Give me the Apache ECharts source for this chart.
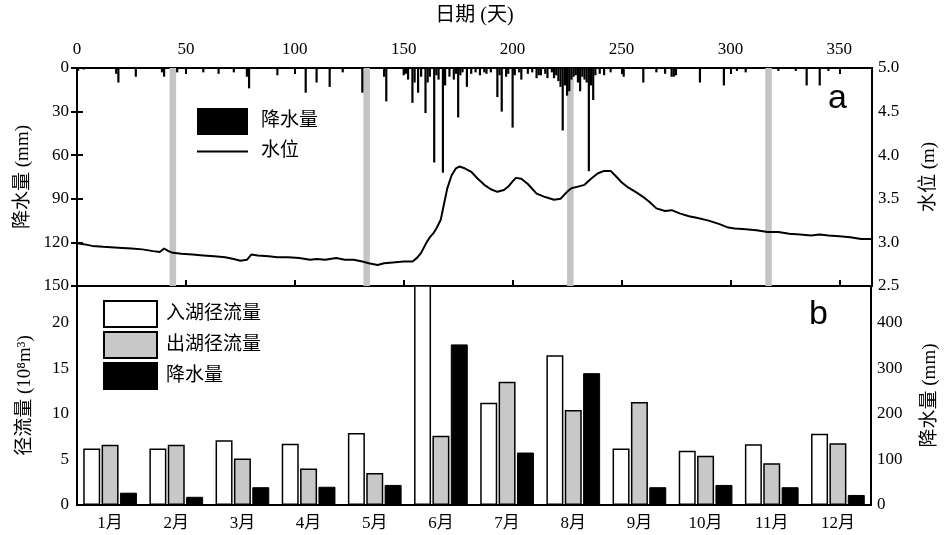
<!DOCTYPE html>
<html><head><meta charset="utf-8">
<script src="https://cdn.jsdelivr.net/npm/echarts@6/dist/echarts.min.js"></script>
<style>html,body{margin:0;padding:0;background:#fff}#c{width:948px;height:535px}</style>
</head><body><div id="c"></div>
<script>
// ---- data ----
// daily precipitation [day, mm]
const dailyRain = [
 [0.5,2],[3,1],[18,4],[19,10],[27,6],[39,3],[40,6],[46,3],[58,3],[65,4],[72,3],[78,6],[79,14],[92,5],
 [105,17],[110,10],[116,13],[122,3],[131,17],[141,6],[142,23],[150,5],
 [151,4],[152,8],[154,24],[155,10],[156.6,17],[158,6],[160,31],[161,10],[162,6],[164,65],[165,5],[166,8],
 [168,72],[169,12],[171,6],[173,8],[174,4],[175,34],[176,5],[177,3],[179,13],[181,4],[183,3],[185,5],
 [187,3],[188,4],[190,3],[193,20],[194,5],[195,30],[197,6],[198,4],[200,41],[201,5],[203,3],[204,8],
 [207,4],[209,3],[211,7],[212,5],[213,5],[215,4],[216,7],[218,3],[219,7],[220,5],[221,9],[222,13],
 [223,43],[224,12],[225,19],[226,16],[227,8],[228,6],[229,5],[230,10],[231,16],[232,6],[233,8],[234,10],
 [235,71],[236,12],[237,22],[238,5],[240,4],[242,5],[245,3],[251,6],
 [260,10],[266,3],[270,4],[273,6],[274,6],[275,5],[286,10],[297,12],[303,2],[307,3],[322,2],[330,2],
 [335,12],[341,12],[345,2]
];
// daily water level [day, m]
const waterLevel = [
 [0,2.99],[3,2.98],[7,2.96],[12,2.95],[19,2.94],[25,2.93],[30,2.92],[35,2.90],[38,2.89],[40,2.93],[42,2.90],
 [44,2.88],[48,2.87],[53,2.86],[58,2.85],[63,2.84],[68,2.83],[72,2.81],[75,2.79],[78,2.80],[80,2.86],
 [83,2.85],[88,2.84],[92,2.83],[97,2.83],[102,2.82],[107,2.80],[110,2.81],[114,2.80],[119,2.82],[123,2.80],
 [127,2.80],[131,2.78],[134,2.76],[138,2.74],[141,2.76],[145,2.77],[150,2.78],[154,2.78],[156,2.82],
 [158,2.88],[160.5,3.00],[162,3.06],[163.5,3.10],[165,3.16],[167,3.26],[168.5,3.44],[170,3.62],[172,3.77],
 [174,3.85],[175.5,3.87],[178,3.85],[181,3.81],[184,3.73],[187,3.66],[190,3.61],[193,3.58],[196,3.60],
 [198,3.64],[200,3.70],[201.5,3.74],[204,3.73],[207,3.67],[211,3.56],[215,3.52],[219,3.49],[222,3.50],
 [225,3.58],[227,3.62],[230,3.64],[233,3.66],[236,3.73],[239,3.79],[242,3.82],[245,3.82],[247,3.77],
 [250,3.69],[253,3.63],[257,3.57],[260,3.52],[263,3.46],[266,3.39],[270,3.36],[273,3.37],[277,3.33],
 [281,3.30],[285,3.28],[290,3.25],[295,3.21],[299,3.17],[302,3.16],[307,3.15],[312,3.14],[317,3.12],
 [322,3.12],[327,3.10],[332,3.09],[337,3.08],[341,3.09],[345,3.08],[350,3.07],[355,3.06],[360,3.04],[365,3.04]
];
// shaded sampling periods [startDay, endDay]
const bands = [[42.5,45.5],[131.5,134.5],[225,228],[316,319]];
// monthly
const months = ['1月','2月','3月','4月','5月','6月','7月','8月','9月','10月','11月','12月'];
const inflow  = [6.2,6.2,7.1,6.7,7.9,26,11.2,16.4,6.2,5.95,6.65,7.8];
const outflow = [6.6,6.6,5.1,4.0,3.5,7.6,13.5,10.4,11.3,5.4,4.57,6.76];
const monthRain = [27,18,39,40,44,352,115,289,39,44,39,22];

// ---- chart ----
const F = "'Liberation Serif','Noto Sans CJK SC',serif";
const txt = {color:'#000', fontFamily:F, fontSize:17};
const axLine = {lineStyle:{color:'#000', width:2}};
const tickIn = {inside:true, length:6, lineStyle:{color:'#000', width:2}};
const lineIcon = 'path://M0,0M0,27M0,12.5L51,12.5L51,14.5L0,14.5Z';
const chart = echarts.init(document.getElementById('c'), null, {renderer:'canvas'});
chart.setOption({
  animation:false,
  backgroundColor:'#fff',
  textStyle:{fontFamily:F, color:'#000'},
  grid:[
    {left:77, right:76, top:68, height:218, show:true, borderColor:'#000', borderWidth:2},
    {left:77, right:76, top:286, height:219, show:true, borderColor:'#000', borderWidth:2}
  ],
  legend:[
    {orient:'vertical', left:197, top:108, padding:0, itemWidth:51, itemHeight:27, itemGap:3,
     data:[{name:'降水量', icon:'rect'}, {name:'水位', icon:lineIcon}],
     textStyle:{fontFamily:F, fontSize:19, color:'#000', padding:[0,0,0,8]}},
    {orient:'vertical', left:103, top:300, padding:0, itemWidth:53, itemHeight:26, itemGap:3,
     data:[{name:'入湖径流量', icon:'rect'},{name:'出湖径流量', icon:'rect'},{name:'降水量 ', icon:'rect'}],
     textStyle:{fontFamily:F, fontSize:19, color:'#000', padding:[0,0,0,4]}}
  ],
  xAxis:[
    {gridIndex:0, type:'value', position:'top', min:0, max:365, interval:50,
     axisLine:axLine, axisTick:tickIn, splitLine:{show:false},
     axisLabel:Object.assign({showMaxLabel:false, margin:10}, txt),
     name:'日期 (天)', nameLocation:'middle', nameGap:42, nameTextStyle:{fontFamily:F, fontSize:20, color:'#000'}},
    {gridIndex:0, type:'value', position:'bottom', min:0, max:365, interval:50,
     axisLine:axLine, axisTick:tickIn, splitLine:{show:false}, axisLabel:{show:false}},
    {gridIndex:1, type:'category', position:'bottom', data:months,
     axisLine:axLine, axisTick:Object.assign({alignWithLabel:true}, tickIn),
     axisLabel:Object.assign({margin:10}, txt)}
  ],
  yAxis:[
    {gridIndex:0, type:'value', position:'left', inverse:true, min:0, max:150, interval:30,
     axisLine:axLine, axisTick:tickIn, splitLine:{show:false}, axisLabel:Object.assign({margin:8}, txt),
     name:'降水量 (mm)', nameLocation:'middle', nameRotate:90, nameGap:42,
     nameTextStyle:{fontFamily:F, fontSize:19, color:'#000'}},
    {gridIndex:0, type:'value', position:'right', min:2.5, max:5.0, interval:0.5,
     axisLine:axLine, axisTick:tickIn, splitLine:{show:false},
     axisLabel:Object.assign({margin:6, formatter:v=>v.toFixed(1)}, txt),
     name:'水位 (m)', nameLocation:'middle', nameRotate:90, nameGap:48,
     nameTextStyle:{fontFamily:F, fontSize:19, color:'#000'}},
    {gridIndex:1, type:'value', position:'left', min:0, max:24, interval:5,
     axisLine:axLine, axisTick:tickIn, splitLine:{show:false},
     axisLabel:Object.assign({margin:8, showMaxLabel:false}, txt),
     name:'径流量 (10⁸m³)', nameLocation:'middle', nameRotate:90, nameGap:42,
     nameTextStyle:{fontFamily:F, fontSize:19, color:'#000'}},
    {gridIndex:1, type:'value', position:'right', min:0, max:480, interval:100,
     axisLine:axLine, axisTick:tickIn, splitLine:{show:false},
     axisLabel:Object.assign({margin:6, showMaxLabel:false}, txt),
     name:'降水量 (mm)', nameLocation:'middle', nameRotate:90, nameGap:50,
     nameTextStyle:{fontFamily:F, fontSize:19, color:'#000'}}
  ],
  series:[
    {name:'降水量', type:'bar', xAxisIndex:0, yAxisIndex:0, data:dailyRain, barWidth:2.2,
     itemStyle:{color:'#000'}, z:2},
    {name:'bands', type:'line', xAxisIndex:0, yAxisIndex:1, data:[], z:3,
     markArea:{silent:true, itemStyle:{color:'#c4c4c4'},
       data:bands.map(b=>[{xAxis:b[0]},{xAxis:b[1]}])}},
    {name:'水位', type:'line', xAxisIndex:0, yAxisIndex:1, data:waterLevel, symbol:'none',
     lineStyle:{color:'#000', width:2}, itemStyle:{color:'#000'}, z:4},
    {name:'入湖径流量', type:'bar', xAxisIndex:2, yAxisIndex:2, data:inflow, barWidth:17, barGap:'8%',
     itemStyle:{color:'#fff', borderColor:'#000', borderWidth:1.5}},
    {name:'出湖径流量', type:'bar', xAxisIndex:2, yAxisIndex:2, data:outflow, barWidth:17, barGap:'8%',
     itemStyle:{color:'#c8c8c8', borderColor:'#000', borderWidth:1.5}},
    {name:'降水量 ', type:'bar', xAxisIndex:2, yAxisIndex:3, data:monthRain, barWidth:17, barGap:'8%',
     itemStyle:{color:'#000', borderColor:'#000', borderWidth:1}}
  ],
  graphic:[
    {type:'text', left:828, top:82, style:{text:'a', font:"34px 'Liberation Sans', Arial, sans-serif", fill:'#000'}},
    {type:'text', left:809, top:298, style:{text:'b', font:"34px 'Liberation Sans', Arial, sans-serif", fill:'#000'}}
  ]
});
</script></body></html>
